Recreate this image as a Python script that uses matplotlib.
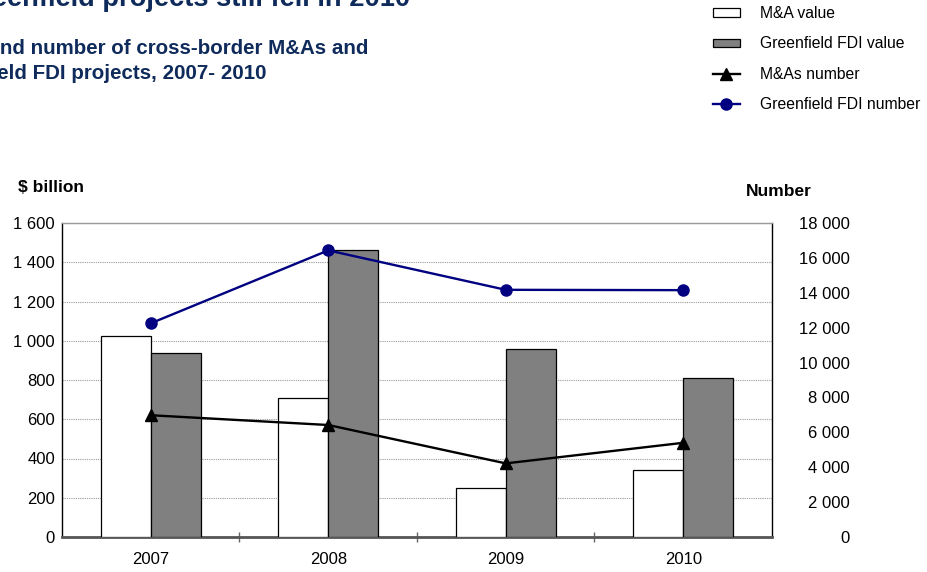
import matplotlib
matplotlib.use("Agg")
import matplotlib.pyplot as plt
import numpy as np
from matplotlib.ticker import FuncFormatter, FixedLocator

plt.rcParams['font.family'] = ['Liberation Sans', 'DejaVu Sans']

years = ['2007', '2008', '2009', '2010']
ma_value = [1023, 707, 250, 342]
greenfield_value = [939, 1464, 958, 810]
ma_number = [6980, 6420, 4220, 5400]
greenfield_number = [12250, 16430, 14170, 14150]

left_ticks = [0, 200, 400, 600, 800, 1000, 1200, 1400, 1600]
right_ticks = [0, 2000, 4000, 6000, 8000, 10000, 12000, 14000, 16000, 18000]

navy = '#0f2b5b'
W, H = 928, 572
fig = plt.figure(figsize=(W / 100, H / 100), dpi=100)

ax_l, ax_r, ax_b, ax_t = 62, 772, 537, 223
ax = fig.add_axes([ax_l / W, 1 - ax_b / H, (ax_r - ax_l) / W, (ax_b - ax_t) / H])

x = np.arange(len(years))
bw = 0.282
b1 = ax.bar(x - bw / 2, ma_value, bw, color='white', edgecolor='black', linewidth=0.9, zorder=3, label='M&A value')
b2 = ax.bar(x + bw / 2, greenfield_value, bw, color='#808080', edgecolor='black', linewidth=0.9, zorder=3, label='Greenfield FDI value')

ax.set_xlim(-0.5, 3.5)
ax.set_ylim(0, 1600)
ax.yaxis.set_major_locator(FixedLocator(left_ticks))
fmt = FuncFormatter(lambda v, p: f"{int(v):,}".replace(',', ' '))
ax.yaxis.set_major_formatter(fmt)
ax.grid(axis='y', linestyle=(0, (1, 1)), color='#999999', linewidth=0.8, zorder=0)
ax.set_axisbelow(True)
ax.set_xticks(x)
ax.set_xticklabels(years)
ax.set_xticks([0.5, 1.5, 2.5], minor=True)
ax.tick_params(axis='x', which='major', length=0, pad=11, labelsize=12)
ax.tick_params(axis='x', which='minor', length=7, direction='inout', color='#666666', width=1)
ax.tick_params(axis='y', length=0, pad=5, labelsize=12)
for s in ['left', 'right']:
    ax.spines[s].set_color('black')
    ax.spines[s].set_linewidth(1)
ax.spines['top'].set_color('#999999')
ax.spines['top'].set_linewidth(1)
ax.spines['bottom'].set_color('#555555')
ax.spines['bottom'].set_linewidth(2)

ax2 = ax.twinx()
ax2.set_ylim(0, 18000)
ax2.yaxis.set_major_locator(FixedLocator(right_ticks))
ax2.yaxis.set_major_formatter(fmt)
ax2.tick_params(axis='y', length=0, pad=56, labelsize=12)
for lab in ax2.get_yticklabels():
    lab.set_horizontalalignment('right')
for s in ax2.spines.values():
    s.set_visible(False)
l1, = ax2.plot(x, ma_number, color='black', linewidth=1.7, marker='^', markersize=8, label='M&As number', zorder=4)
l2, = ax2.plot(x, greenfield_number, color='#000080', linewidth=1.7, marker='o', markersize=8, label='Greenfield FDI number', zorder=4)

fig.text(18 / W, 1 - 192 / H, '$ billion', fontsize=12.5, fontweight='bold', ha='left', va='baseline')
fig.text(746 / W, 1 - 196 / H, 'Number', fontsize=12.5, fontweight='bold', ha='left', va='baseline')

fig.text(-40 / W, 1 - 6 / H, 'Greenfield projects still fell in 2010', fontsize=19.6, fontweight='bold',
         color=navy, ha='left', va='baseline')
fig.text(-71 / W, 1 - 54 / H, 'Value and number of cross-border M&As and', fontsize=14.8, fontweight='bold',
         color=navy, ha='left', va='baseline')
fig.text(-71 / W, 1 - 79 / H, 'greenfield FDI projects, 2007- 2010', fontsize=14.8, fontweight='bold',
         color=navy, ha='left', va='baseline')

leg = fig.legend(handles=[b1, b2, l1, l2], loc='upper left', bbox_to_anchor=(713 / W, 1 - 6 / H),
                 frameon=False, fontsize=11.3, handlelength=1.72, handleheight=0.45,
                 handletextpad=1.27, labelspacing=0.98, borderaxespad=0, borderpad=0)

fig.savefig('out.png', dpi=100)
